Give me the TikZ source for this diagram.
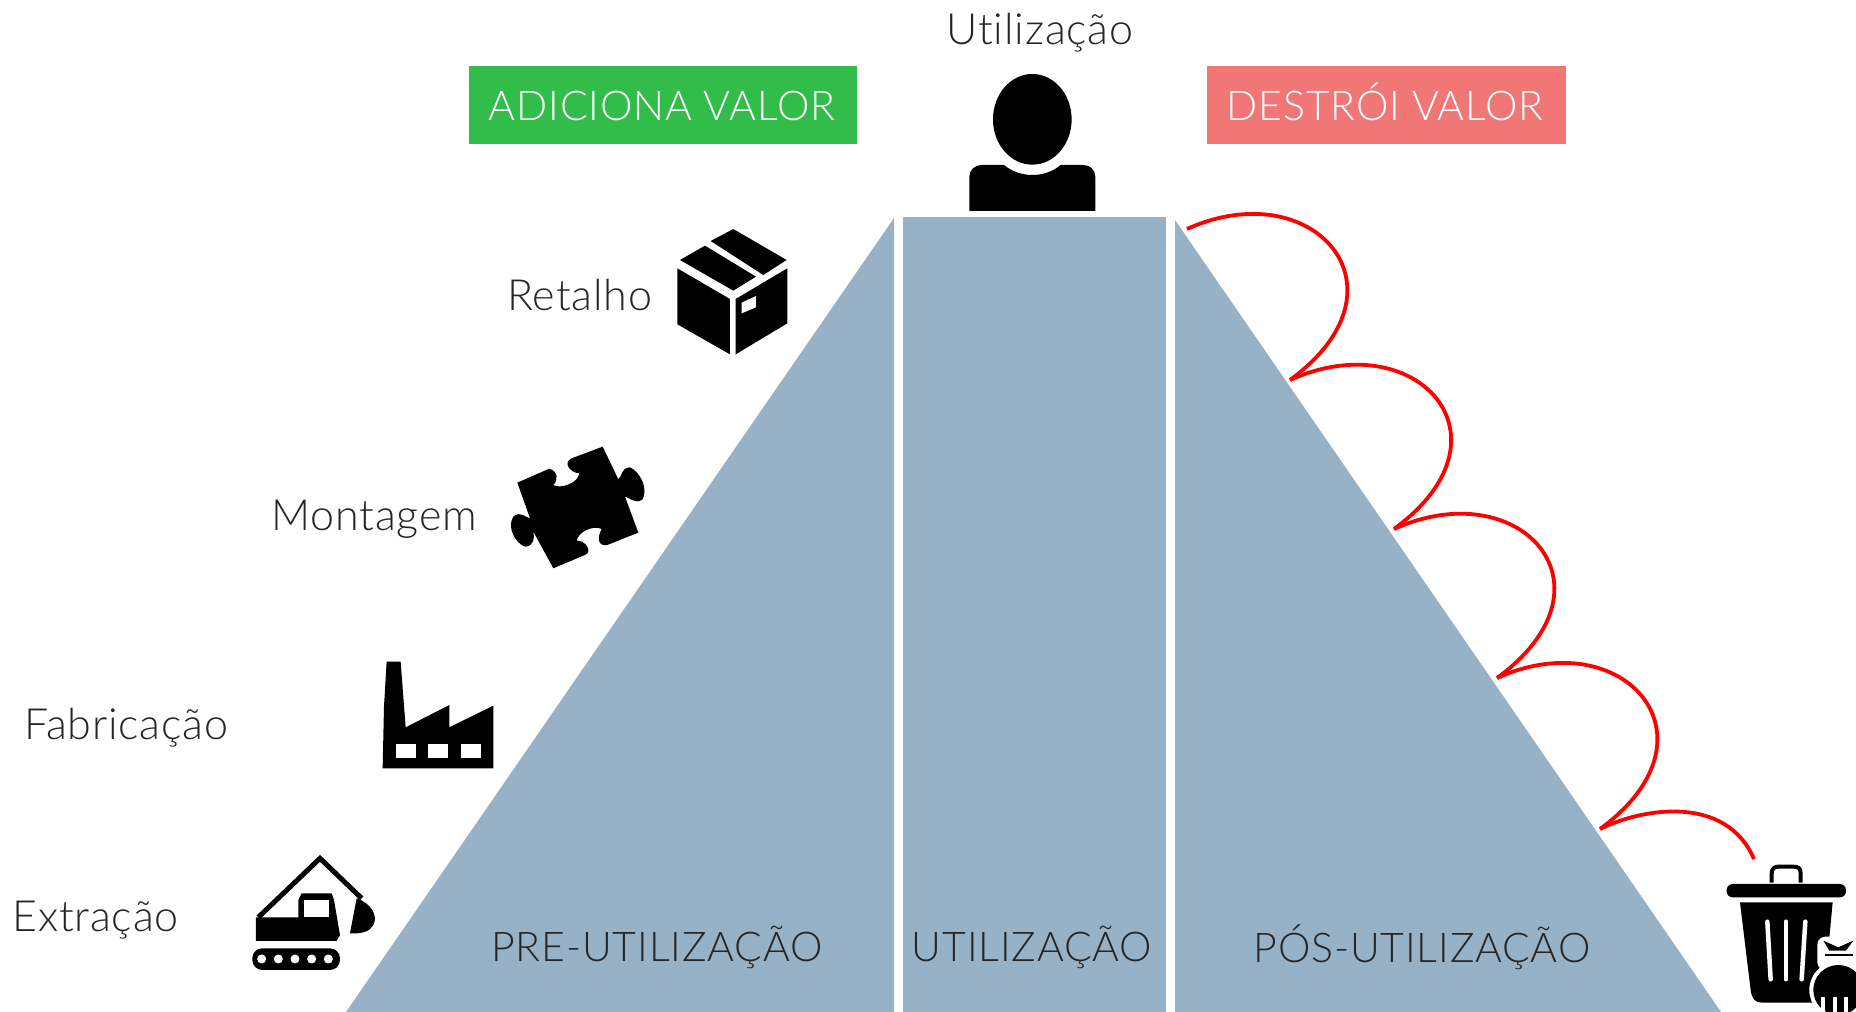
\documentclass[tikz,border=0pt]{standalone}
\usepackage{fontspec}
\setmainfont[Ligatures=NoCommon]{Lato Light}
\definecolor{trapblue}{HTML}{97B1C7}
\definecolor{addgreen}{HTML}{32BC4A}
\definecolor{lossred}{HTML}{F17777}
\tikzset{
  stage/.style={font=\fontsize{43}{50}\selectfont\addfontfeature{LetterSpace=2}, text=black!85, inner sep=0pt},
  phase/.style={font=\fontsize{41}{50}\selectfont\addfontfeature{LetterSpace=2}, text=black!85, inner sep=0pt},
  banner/.style={font=\fontsize{41}{50}\selectfont\addfontfeature{LetterSpace=2}, text=white, inner sep=0pt},
  iconzoom/.style={x=0.3333pt,y=-0.3333pt},
  hop/.style={draw=red, line width=3.8pt}
}
\begin{document}
\begin{tikzpicture}[x=1pt,y=-1pt]
  \useasboundingbox (0,0) rectangle (1856,1012);
  \fill[trapblue] (894,218) -- (894,1012) -- (346,1012) -- cycle;
  \fill[trapblue] (903,217) rectangle (1166,1012);
  \fill[trapblue] (1175,220) -- (1721,1012) -- (1175,1012) -- cycle;
  \fill[addgreen] (469,66) rectangle (857,144);
  \fill[lossred] (1207,66) rectangle (1566,144);
  %%
  \node[banner] (addvalue) at (662,106) {ADICIONA VALOR};
  \node[banner] (losevalue) at (1385,102) {DESTRÓI VALOR};
  \node[stage] (useicon) at (1040,33) {Utilização};
  \node[stage,anchor=west] (retail) at (507,295) {Retalho};
  \node[stage,anchor=west] (assembly) at (271,519) {Montagem};
  \node[stage,anchor=west] (making) at (24,728) {Fabricação};
  \node[stage,anchor=west] (mining) at (12,920) {Extração};
  \node[phase] (prephase) at (657,947) {PRE-UTILIZAÇÃO};
  \node[phase] (usephase) at (1032,947) {UTILIZAÇÃO};
  \node[phase] (posphase) at (1422,947) {PÓS-UTILIZAÇÃO};
  %%
  \coordinate (h0) at (1187,229);
  \coordinate (h1) at (1290,380);
  \coordinate (h2) at (1394,529);
  \coordinate (h3) at (1497,678);
  \coordinate (h4) at (1600,829);
  \coordinate (binedge) at (1754,859);
  \foreach \a/\b in {h0/h1,h1/h2,h2/h3,h3/h4}
    \draw[hop] (\a) .. controls +(126,-57) and +(126,-92) .. (\b);
  \draw[hop] (h4) .. controls +(42,-21) and +(-28,-65) .. (binedge);
  %% excavator
  \begin{scope}[shift={(230,640)},iconzoom]
    \draw[line width=5pt] (85,832) -- (270,655) -- (395,775);
    \fill (78,832) -- (205,832) -- (205,780) -- (215,760) -- (305,760) -- (312,780) -- (330,885) -- (320,903) -- (78,903) -- cycle;
    \fill[white] (223,780) rectangle (297,830);
    \fill (380,775) .. controls (425,790) and (445,830) .. (430,855) .. controls (420,875) and (395,882) .. (360,880) -- cycle;
    \fill[rounded corners=10pt] (67,925) rectangle (330,990);
    \foreach \x in {95,145,195,245,295}
      \fill[white] (\x,957) circle (4.5pt);
  \end{scope}
  %% factory
  \begin{scope}[shift={(230,640)},iconzoom]
    \fill (470,65) -- (512,65) -- (527,262) -- (658,195) -- (658,262) -- (790,197) -- (790,385) -- (458,385) -- (462,200) -- cycle;
    \foreach \x in {498,594,692}
      \fill[white] (\x,312) rectangle +(60,42);
  \end{scope}
  %% box
  \begin{scope}[shift={(490,210)},iconzoom]
    \fill (570,150) -- (645,107) -- (798,200) -- (730,242) -- cycle;
    \fill (662,93) -- (730,57) -- (890,150) -- (820,195) -- cycle;
    \fill (562,175) -- (720,267) -- (720,433) -- (562,343) -- cycle;
    \fill (737,267) -- (892,175) -- (892,340) -- (737,433) -- cycle;
    \fill[white] (755,278) -- (798,258) -- (798,292) -- (755,310) -- cycle;
  \end{scope}
  %% puzzle piece
  \begin{scope}[shift={(490,210)},iconzoom]
    \fill (82,818) -- (178,776) .. controls (205,785) and (205,810) .. (190,825)
      .. controls (210,838) and (265,820) .. (268,790) .. controls (245,790) and (215,760) .. (245,745)
      -- (338,710) -- (385,808) .. controls (398,800) and (390,775) .. (420,772)
      .. controls (450,785) and (475,835) .. (458,868) .. controls (435,885) and (415,860) .. (405,860)
      -- (445,968) -- (352,1005) .. controls (325,1010) and (320,985) .. (335,957)
      .. controls (310,945) and (265,965) .. (260,992) .. controls (285,990) and (310,1025) .. (285,1035)
      -- (190,1075) -- (130,965) .. controls (135,985) and (130,1010) .. (105,1010)
      .. controls (75,1000) and (50,950) .. (70,920) .. controls (90,900) and (110,925) .. (120,925) -- cycle;
  \end{scope}
  %% person
  \begin{scope}[shift={(920,0)},iconzoom]
    \fill (337,358) ellipse [x radius=118, y radius=136];
    \fill (148,633) -- (148,530) .. controls (148,510) and (165,495) .. (185,495) -- (252,495)
      .. controls (300,535) and (375,535) .. (422,495) -- (490,495) .. controls (510,495) and (526,510) .. (526,530) -- (526,633) -- cycle;
  \end{scope}
  %% bin
  \begin{scope}[shift={(1580,780)},iconzoom]
    \draw[line width=4pt] (575,308) -- (575,280) .. controls (575,265) and (585,260) .. (595,260) -- (640,260) .. controls (655,260) and (662,265) .. (662,280) -- (662,308);
    \fill[rounded corners=6pt] (440,312) rectangle (798,352);
    \fill (480,367) -- (758,367) -- (730,668) -- (545,668) .. controls (525,668) and (515,655) .. (512,630) -- cycle;
    \foreach \u/\v in {562/572,618/618,676/665}
      \draw[white,line width=4.5pt,line cap=round] (\u,425) -- (\v,598);
    \fill[white,rounded corners=8pt] (712,470) -- (828,470) -- (828,570) -- (712,570) -- cycle;
    \fill[white] (775,630) circle (29pt);
    \fill (775,630) circle (25pt);
    \fill (730,482) -- (775,502) -- (820,482) -- (798,512) -- (748,512) -- cycle;
    \draw[line width=2.5pt] (735,525) -- (818,525);
    \foreach \x in {722,758,792}
      \fill[white] (\x,650) rectangle +(12,45);
  \end{scope}
\end{tikzpicture}
\end{document}
